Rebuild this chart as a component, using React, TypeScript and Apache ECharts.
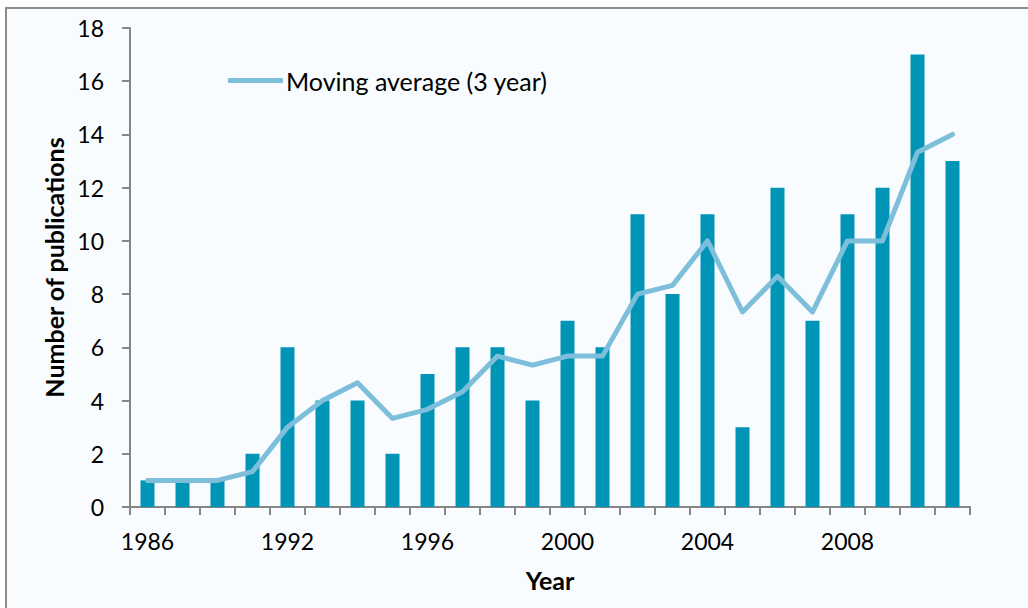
import React, { useEffect, useRef } from "react";
import * as echarts from "echarts";

const years = [
  "1986", "1988", "1990", "1991", "1992", "1993", "1994", "1995", "1996", "1997", "1998", "1999",
  "2000", "2001", "2002", "2003", "2004", "2005", "2006", "2007", "2008", "2009", "2010", "2011",
];
const publications = [1, 1, 1, 2, 6, 4, 4, 2, 5, 6, 6, 4, 7, 6, 11, 8, 11, 3, 12, 7, 11, 12, 17, 13];
const movingAverage = [
  1, 1, 1, 1.33, 3, 4, 4.67, 3.33, 3.67, 4.33, 5.67, 5.33, 5.67, 5.67, 8, 8.33, 10, 7.33, 8.67, 7.33,
  10, 10, 13.33, 14,
];
const yTicks = { min: 0, max: 18, interval: 2 };

const FONT = "Lato, 'Open Sans', sans-serif";
const LINE_COLOR = "#7DBFDA";

export default function App() {
  const ref = useRef<HTMLDivElement>(null);
  useEffect(() => {
    const chart = echarts.init(ref.current!, null, { renderer: "svg" });
    chart.setOption({
      animation: false,
      backgroundColor: "#ffffff",
      textStyle: { fontFamily: FONT },
      graphic: [
        {
          type: "rect",
          z: -10,
          silent: true,
          shape: { x: 6, y: 8, width: 1040, height: 620 },
          style: { fill: "#F8FCFE", stroke: "#8C8C8C", lineWidth: 2 },
        },
      ],
      grid: { left: 130, right: 58, top: 28, bottom: 101 },
      legend: {
        left: 228,
        top: 68,
        padding: 0,
        icon: "roundRect",
        itemWidth: 55,
        itemHeight: 5,
        itemGap: 10,
        textStyle: { fontSize: 25, color: "#000", fontFamily: FONT, padding: [0, 0, 0, -2] },
        data: ["Moving average (3 year)"],
      },
      xAxis: {
        type: "category",
        data: years,
        boundaryGap: true,
        name: "Year",
        nameLocation: "middle",
        nameGap: 60,
        nameTextStyle: { fontSize: 25, fontWeight: "bold", color: "#000", fontFamily: FONT },
        axisLine: { lineStyle: { color: "#868686", width: 2 } },
        axisTick: { show: true, interval: 0, length: 8, lineStyle: { color: "#868686", width: 2 } },
        axisLabel: { interval: 3, fontSize: 23, color: "#000", margin: 22, fontFamily: FONT },
        splitLine: { show: false },
      },
      yAxis: {
        type: "value",
        min: yTicks.min,
        max: yTicks.max,
        interval: yTicks.interval,
        name: "Number of publications",
        nameLocation: "middle",
        nameGap: 61,
        nameRotate: 90,
        nameTextStyle: { fontSize: 25, fontWeight: "bold", color: "#000", fontFamily: FONT },
        axisLine: { show: true, lineStyle: { color: "#868686", width: 2 } },
        axisTick: { show: true, length: 8, lineStyle: { color: "#868686", width: 2 } },
        axisLabel: { fontSize: 23, color: "#000", margin: 26, fontFamily: FONT },
        splitLine: { show: false },
      },
      series: [
        {
          name: "Publications",
          type: "bar",
          data: publications,
          barWidth: "40%",
          itemStyle: { color: "#0095B6" },
        },
        {
          name: "Moving average (3 year)",
          type: "line",
          data: movingAverage,
          symbol: "none",
          showSymbol: false,
          lineStyle: { width: 5, color: LINE_COLOR, cap: "round", join: "round" },
          itemStyle: { color: LINE_COLOR },
          z: 3,
        },
      ],
    });
    return () => chart.dispose();
  }, []);
  return (
    <div
      ref={ref}
      style={{ position: "fixed", left: 0, top: 0, width: 1028, height: 608 }}
    />
  );
}
